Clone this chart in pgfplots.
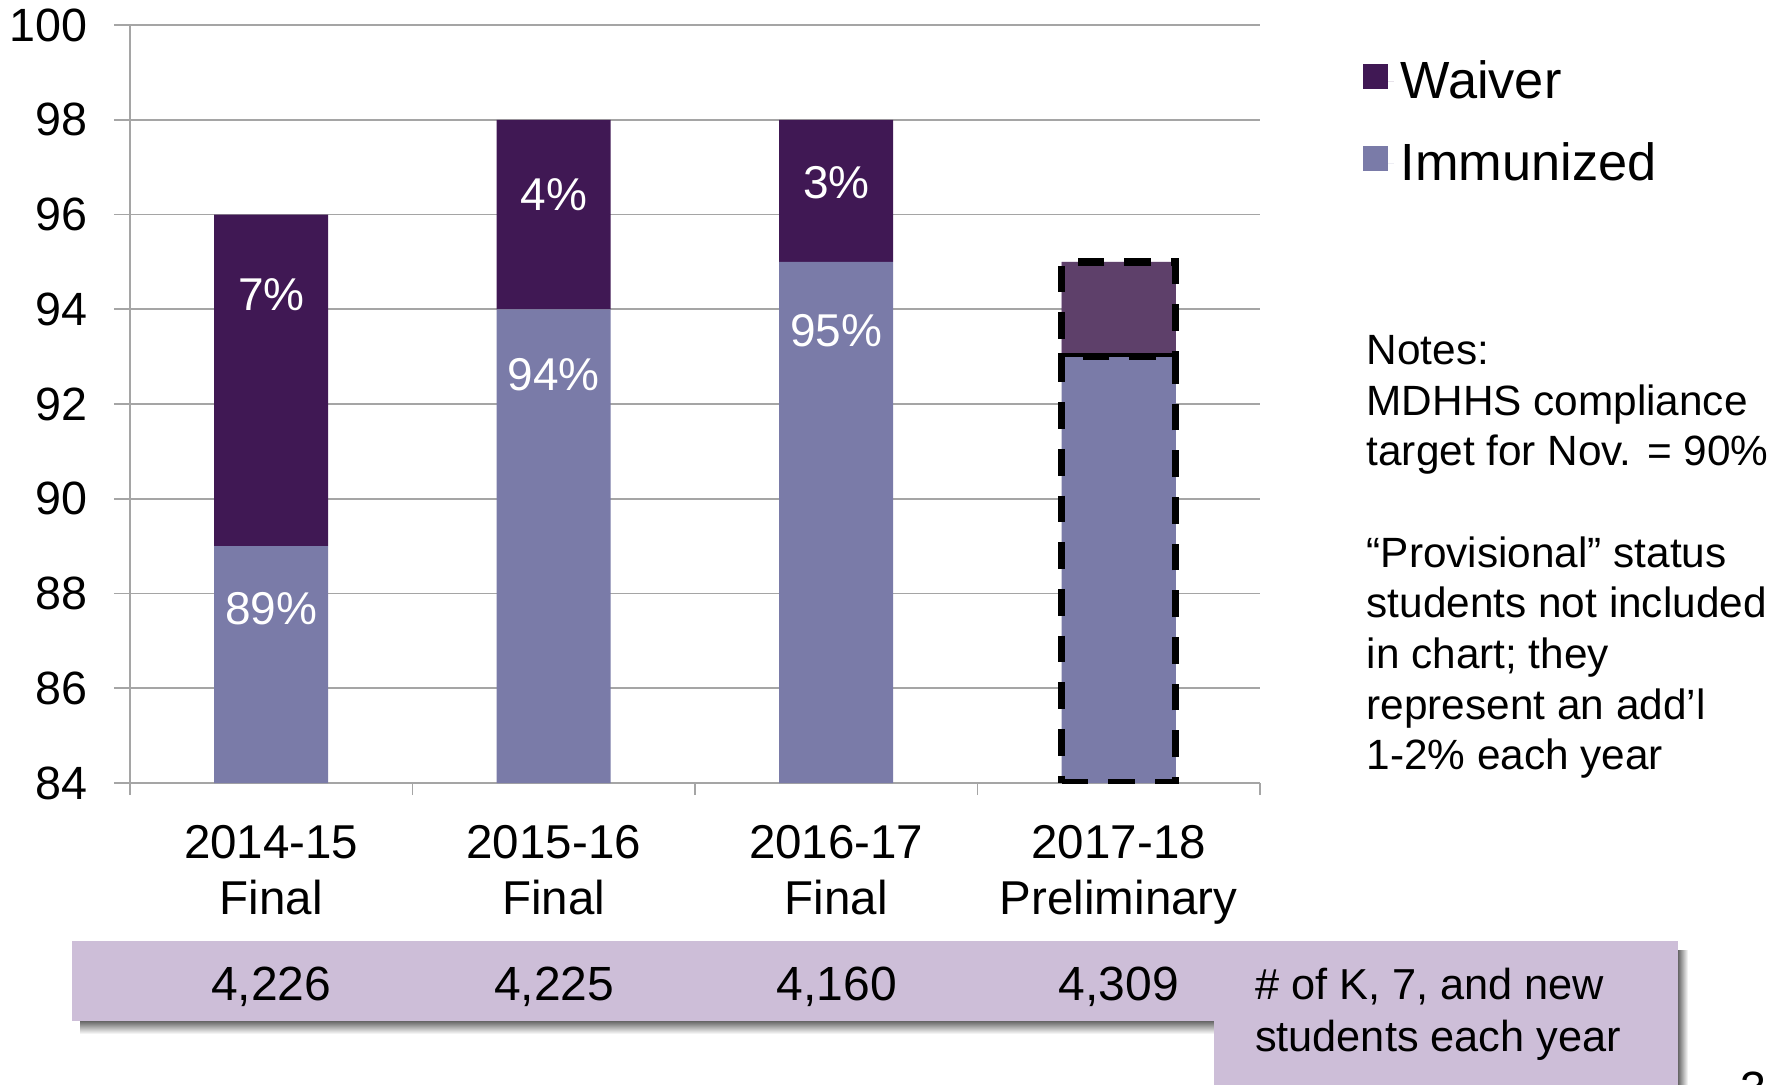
\documentclass[border=0pt]{standalone}
\usepackage{pgfplots}
\pgfplotsset{compat=1.18}
\usepackage{fontspec}
\setmainfont{Liberation Sans}
\definecolor{imm}{RGB}{122,123,168}
\definecolor{waiv}{RGB}{64,24,84}
\definecolor{waivl}{RGB}{94,64,106}
\definecolor{band}{RGB}{205,190,216}
\definecolor{gridc}{RGB}{165,165,165}
\tikzset{barlab/.style={text=white, font=\fontsize{13.8}{15}\selectfont}}
\begin{document}
\begin{tikzpicture}
% bottom band with shadow
\shade[top color=black!60, bottom color=white] (24pt,15.0pt) rectangle (364.2pt,18.9pt);
\shade[left color=black!60, right color=white] (503.4pt,-5pt) rectangle (506.4pt,40pt);
\fill[band] (21.6pt,18.9pt) rectangle (503.4pt,42.9pt);
\fill[band] (364.2pt,-5pt) rectangle (503.4pt,19pt);
\begin{axis}[
  at={(39pt,90.3pt)}, anchor=south west, scale only axis,
  width=339pt, height=227.4pt,
  xmin=-0.5, xmax=3.5, ymin=84, ymax=100,
  ybar stacked, bar width=34.2pt,
  ytick={84,86,...,100}, ymajorgrids,
  grid style={gridc, line width=0.5pt},
  xtick={0,1,2,3},
  xticklabels={2014-15\\Final, 2015-16\\Final, 2016-17\\Final, 2017-18\\Preliminary},
  xticklabel style={align=center, font=\fontsize{14.25}{16.8}\selectfont, yshift=-4.5pt},
  yticklabel style={font=\fontsize{14}{16}\selectfont, xshift=-4.4pt},
  /pgf/number format/assume math mode=true,
  major x tick style={draw=none},
  extra x ticks={-0.5,0.5,1.5,2.5,3.5}, extra x tick labels={},
  extra x tick style={grid=none, major tick length=3.6pt, major x tick style={draw=gridc, line width=0.5pt}},
  tick align=outside, major tick length=4.8pt,
  xtick pos=bottom, ytick pos=left,
  axis x line*=bottom, axis y line*=left,
  axis line style={-, gridc, line width=0.5pt},
  y tick style={gridc, line width=0.5pt},
  legend style={at={(1.082,0.972)}, anchor=north west, draw=none, fill=none,
    font=\fontsize{15.7}{18}\selectfont, row sep=7.7pt, cells={anchor=west}},
  legend image code/.code={\fill[#1] (0pt,-2.1pt) rectangle (7.5pt,5.4pt); \path (0pt,0pt) -- (9.2pt,0pt);},
  reverse legend,
]
\addplot[fill=imm, draw=none] coordinates {(0,89) (1,94) (2,95) (3,93)};
\addplot[fill=waiv, draw=none] coordinates {(0,7) (1,4) (2,3) (3,2)};
\legend{Immunized, Waiver}
\end{axis}
\begin{axis}[
  at={(39pt,90.3pt)}, anchor=south west, scale only axis,
  width=339pt, height=227.4pt,
  xmin=-0.5, xmax=3.5, ymin=84, ymax=100,
  ybar stacked, bar width=34.2pt, hide axis,
]
\addplot[fill=imm, draw=black, line width=2.2pt, dash pattern=on 8pt off 6pt] coordinates {(3,93)};
\addplot[fill=waivl, draw=black, line width=2.2pt, dash pattern=on 8pt off 6pt] coordinates {(3,2)};
\node[barlab] at (axis cs:0,87.68) {89\%};
\node[barlab] at (axis cs:0,94.30) {7\%};
\node[barlab] at (axis cs:1,92.62) {94\%};
\node[barlab] at (axis cs:1,96.42) {4\%};
\node[barlab] at (axis cs:2,93.55) {95\%};
\node[barlab] at (axis cs:2,96.68) {3\%};
\node[barlab] at (axis cs:3,91.49) {93\%};
\node[barlab] at (axis cs:3,93.99) {2\%};
\end{axis}
% notes
\node[anchor=north west, align=left, inner sep=0pt, font=\fontsize{12.7}{15.2}\selectfont] at (409.8pt,224.8pt)
  {Notes:\\MDHHS compliance\\target for Nov. = 90\%\\[15.2pt]“Provisional” status\\students not included\\in chart; they\\represent an add’l\\1-2\% each year};
% band text
\node[anchor=base, inner sep=0pt, font=\fontsize{14.4}{17}\selectfont] at (81.4pt,25.1pt) {4,226};
\node[anchor=base, inner sep=0pt, font=\fontsize{14.4}{17}\selectfont] at (166.3pt,25.1pt) {4,225};
\node[anchor=base, inner sep=0pt, font=\fontsize{14.4}{17}\selectfont] at (251.1pt,25.1pt) {4,160};
\node[anchor=base, inner sep=0pt, font=\fontsize{14.4}{17}\selectfont] at (335.6pt,25.1pt) {4,309};
\node[anchor=base west, inner sep=0pt, font=\fontsize{13}{17}\selectfont] at (376.3pt,25.4pt) {\# of K, 7, and new};
\node[anchor=base west, inner sep=0pt, font=\fontsize{13}{17}\selectfont] at (376.3pt,9.9pt) {students each year};
\node[anchor=north west, inner sep=0pt, font=\fontsize{14}{16}\selectfont] at (522pt,3.9pt) {3};
\pgfresetboundingbox
\path[use as bounding box] (0pt,0pt) rectangle (536.4pt,325.2pt);
\end{tikzpicture}
\end{document}
